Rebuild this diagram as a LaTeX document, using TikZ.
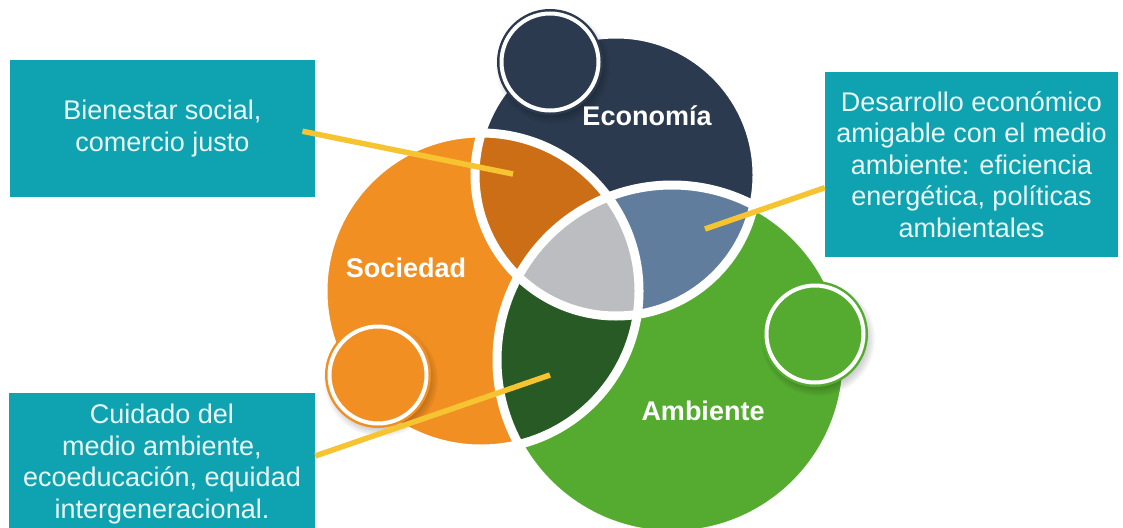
\documentclass[tikz,border=0pt]{standalone}
\usepackage{fontspec}
\setmainfont{Liberation Sans}
\definecolor{econ}{HTML}{2C3A4F}
\definecolor{soc}{HTML}{F18F22}
\definecolor{amb}{HTML}{55AB30}
\definecolor{secol}{HTML}{CC6E16}
\definecolor{eacol}{HTML}{617D9D}
\definecolor{sacol}{HTML}{275A24}
\definecolor{seacol}{HTML}{BBBDC0}
\definecolor{boxteal}{HTML}{0FA3B1}
\definecolor{boxtxt}{HTML}{EAF7F7}
\definecolor{yel}{HTML}{F6C431}
\newcommand{\RadS}{158pt}
\newcommand{\RadE}{141pt}
\newcommand{\RadA}{175pt}
\begin{document}
\begin{tikzpicture}[x=1pt,y=-1pt,
  boxnode/.style={fill=boxteal, text=boxtxt, align=center, inner sep=0pt,
    font=\fontsize{27}{31.5}\selectfont},
  lbl/.style={text=white, font=\bfseries\fontsize{27}{31}\selectfont},
  smallc/.style={circle, minimum size=106pt, inner sep=0pt,
    path picture={\draw[white, line width=4pt] (path picture bounding box.center) circle[radius=48.5pt];}},
  softshadow/.style={fill=black, fill opacity=0.03},
  yline/.style={draw=yel, line width=5.5pt},
  sep/.style={draw=white, line width=9pt}]
\useasboundingbox (0,0) rectangle (1123,527);
\fill[white] (0,0) rectangle (1123,527);
% big circles
\coordinate (cS) at (481,291);
\coordinate (cE) at (616,175);
\coordinate (cA) at (672,360);
\fill[soc] (cS) circle[radius=\RadS];
\fill[econ] (cE) circle[radius=\RadE];
\fill[amb] (cA) circle[radius=\RadA];
\begin{scope}
  \clip (cS) circle[radius=\RadS];
  \fill[secol] (cE) circle[radius=\RadE];
\end{scope}
\begin{scope}
  \clip (cE) circle[radius=\RadE];
  \fill[eacol] (cA) circle[radius=\RadA];
\end{scope}
\begin{scope}
  \clip (cS) circle[radius=\RadS];
  \fill[sacol] (cA) circle[radius=\RadA];
\end{scope}
\begin{scope}
  \clip (cS) circle[radius=\RadS];
  \clip (cE) circle[radius=\RadE];
  \fill[seacol] (cA) circle[radius=\RadA];
\end{scope}
\draw[sep] (cS) circle[radius=\RadS];
\draw[sep] (cE) circle[radius=\RadE];
\draw[sep] (cA) circle[radius=\RadA];
% soft shadows of the small circles
\foreach \k in {0,...,6} {
  \fill[softshadow] (553,67) circle[radius={(48+1.5*\k)*1pt}];
  \fill[softshadow] (381,380) circle[radius={(48+1.5*\k)*1pt}];
  \fill[softshadow] (818,339) circle[radius={(48+1.5*\k)*1pt}];
}
% small circles
\node[smallc, fill=econ] (se) at (550,62) {};
\node[smallc, fill=soc] (ss) at (378,375) {};
\node[smallc, fill=amb] (sa) at (815,334) {};
% labels
\node[lbl] (le) at (647,116) {Economía};
\node[lbl] (ls) at (406,268) {Sociedad};
\node[lbl] (la) at (703,411) {Ambiente};
% boxes
\node[boxnode, minimum width=305pt, minimum height=137pt] (b1) at (162.5,128.5)
  {Bienestar social,\\comercio justo};
\node[boxnode, minimum width=293pt, minimum height=185pt] (b2) at (971.5,164.5)
  {Desarrollo económico\\amigable con el medio\\ambiente: eficiencia\\energética, políticas\\ambientales};
\node[boxnode, minimum width=306pt, minimum height=142pt] (b3) at (162,464)
  {Cuidado del\\medio ambiente,\\ecoeducación, equidad\\intergeneracional.};
% connectors
\coordinate (p1) at (513,174);
\coordinate (p2) at (705,229);
\coordinate (p3) at (550,375);
\draw[yline, shorten >=-13pt] (p1) -- (b1.-2);
\draw[yline] (p2) -- (b2.189);
\draw[yline] (p3) -- (b3.3);
\end{tikzpicture}
\end{document}
